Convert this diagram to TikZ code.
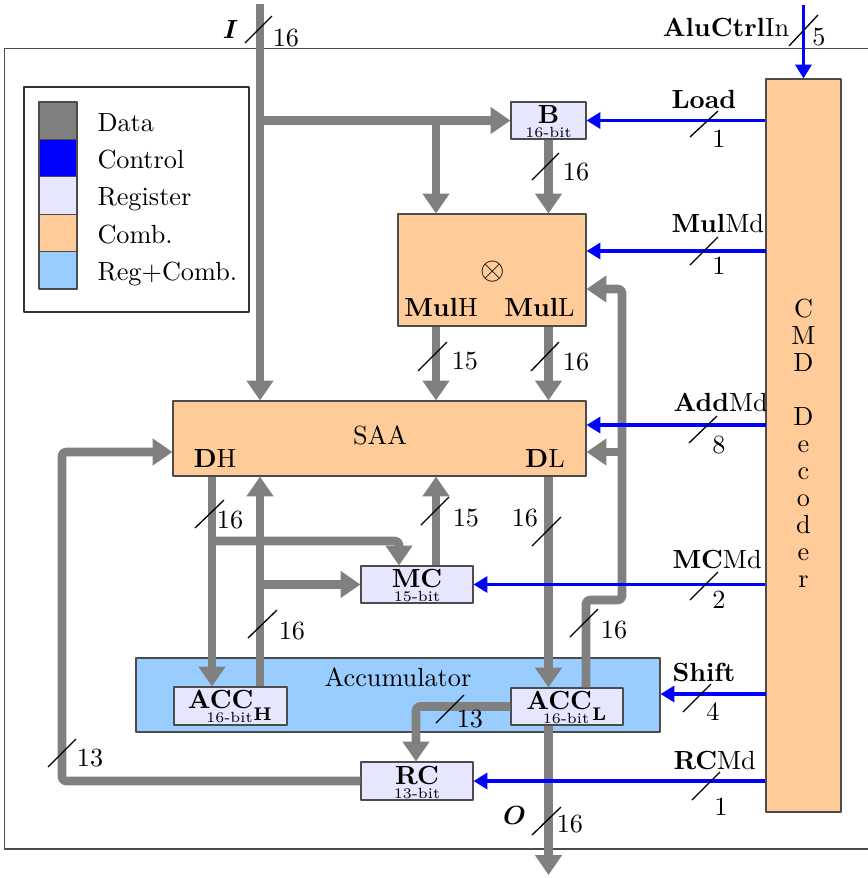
\documentclass[tikz,border=0pt]{standalone}
\usepackage{bm}
\usetikzlibrary{arrows.meta,fit}
\definecolor{regcol}{RGB}{230,230,255}
\definecolor{combcol}{RGB}{255,204,153}
\definecolor{acccol}{RGB}{153,204,255}
\begin{document}
\begin{tikzpicture}[x=0.381pt, y=-0.381pt, line join=round,
		box/.style={draw=black!70, line width=0.4pt, inner sep=0pt},
		reg/.style={box, fill=regcol},
		comb/.style={box, fill=combcol},
		data/.style={gray, line width=3.3pt, rounded corners=1.5pt, -{Triangle[length=7.6pt, width=9.9pt]}},
		ctrl/.style={blue, line width=1.4pt, -{Triangle[length=5.3pt, width=6.1pt]}},
		bus/.style={black, line width=0.5pt},
		lbl/.style={inner sep=0pt},
		regname/.style={inner sep=0pt, anchor=base, font=\bfseries},
		regbits/.style={inner sep=0pt, anchor=base, font=\fontsize{5.6}{7}\selectfont}]
	\useasboundingbox (0,0) rectangle (868,878);
	\draw[black!70, line width=0.4pt] (4.5,48.5) rectangle (880,849);
	
	% legend
	\draw[black!80, line width=0.4pt] (24,87) rectangle (249,312);
	\filldraw[fill=gray, draw=black!70, line width=0.4pt] (39,102) rectangle (77,139.4);
	\filldraw[fill=blue, draw=black!70, line width=0.4pt] (39,139.4) rectangle (77,176.8);
	\filldraw[fill=regcol, draw=black!70, line width=0.4pt] (39,176.8) rectangle (77,214.2);
	\filldraw[fill=combcol, draw=black!70, line width=0.4pt] (39,214.2) rectangle (77,251.6);
	\filldraw[fill=acccol, draw=black!70, line width=0.4pt] (39,251.6) rectangle (77,289);
	\node[lbl, anchor=base west] (lgdata) at (97,131) {Data};
	\node[lbl, anchor=base west] (lgctrl) at (97,168.4) {Control};
	\node[lbl, anchor=base west] (lgreg) at (97,205.8) {Register};
	\node[lbl, anchor=base west] (lgcomb) at (97,243.2) {Comb.};
	\node[lbl, anchor=base west] (lgacc) at (97,280.6) {Reg+Comb.};
	
	% blocks
	\node[reg, fit={(511,102) (586,139)}] (b) {};
	\node[comb, fit={(398,214) (586,326)}] (mul) {};
	\node[comb, fit={(173,401) (586,476)}] (saa) {};
	\node[reg, fit={(361,566) (473,603)}] (mc) {};
	\node[box, fill=acccol, fit={(136,658) (660,732)}] (acc) {};
	\node[reg, fit={(174,687) (287,725)}] (acch) {};
	\node[reg, fit={(511,688) (623,725)}] (accl) {};
	\node[reg, fit={(361,762) (473,800)}] (rc) {};
	\node[comb, fit={(766,79) (841,812)}] (cmd) {};
	
	\node[regname] (bname) at (548.5,123.5) {B};
	\node[regbits] (bbits) at (548.5,137.5) {16-bit};
	\node[regname] (mcname) at (417,587.5) {MC};
	\node[regbits] (mcbits) at (417,601.5) {15-bit};
	\node[regname] (achname) at (230.5,708.5) {$\mathbf{ACC}_{\lower3pt\hbox{$\scriptstyle\mathbf{H}$}}$};
	\node[regbits] (achbits) at (229.5,722.5) {16-bit};
	\node[regname] (aclname) at (567,709) {$\mathbf{ACC}_{\lower3pt\hbox{$\scriptstyle\mathbf{L}$}}$};
	\node[regbits] (aclbits) at (566,723) {16-bit};
	\node[regname] (rcname) at (417,784.5) {RC};
	\node[regbits] (rcbits) at (417,798) {13-bit};
	
	\node[lbl, font=\large] (mulop) at (493,272) {$\otimes$};
	\node[lbl] (mulh) at (441,307) {\textbf{Mul}H};
	\node[lbl] (mull) at (539.5,307) {\textbf{Mul}L};
	\node[lbl] (saaname) at (380,435.5) {SAA};
	\node[lbl] (dh) at (215,458) {\textbf{D}H};
	\node[lbl] (dl) at (545,458) {\textbf{D}L};
	\node[lbl] (acctxt) at (398,677.5) {Accumulator};
	\node[lbl, anchor=north, align=center, font=\linespread{0.86}\selectfont] (cmdname) at (803.5,298) {C\\M\\D\\\mbox{}\\D\\e\\c\\o\\d\\e\\r};
	
	\coordinate (iin) at (260,4);
	\coordinate (mulin) at (436,120.5);
	\coordinate (lft) at (62,452);
	\coordinate (dhx) at (212,541);
	\coordinate (mcin) at (399,541);
	\coordinate (ahx) at (260,583);
	\coordinate (rsx) at (586,600);
	\coordinate (lpx) at (622,600);
	\coordinate (mulfb) at (622,289);
	\coordinate (saafb) at (622,452);
	\coordinate (rcx) at (416,706.5);
	\coordinate (out) at (548.5,875);
	
	% data paths
	\draw[data] (iin) -- (iin |- saa.north);
	\draw[data] (iin |- b.west) -- (b.west);
	\draw[data] (mulin) -- (mulin |- mul.north);
	\draw[data] (b.south) -- (mul.north -| b.south);
	\draw[data] (mul.south -| mulin) -- (saa.north -| mulin);
	\draw[data] (mul.south -| b.south) -- (saa.north -| b.south);
	\draw[data] (rc.west) -| (lft) -- (saa.west |- lft);
	\draw[data] (saa.south -| dhx) -- (acch.north -| dhx);
	\draw[data] (dhx) -- (mcin) -- (mc.north -| mcin);
	\draw[data] (acch.north -| ahx) -- (saa.south -| ahx);
	\draw[data] (ahx |- mc.west) -- (mc.west);
	\draw[data] (mc.north -| mulin) -- (saa.south -| mulin);
	\draw[data] (saa.south -| b.south) -- (accl.north -| b.south);
	\draw[data] (accl.south -| b.south) -- (out);
	\draw[data] (accl.north -| rsx) -- (rsx) -- (lpx) -- (mulfb) -- (mul.east |- mulfb);
	\draw[data] (saafb) -- (saa.east |- saafb);
	\draw[data] (accl.west) -- (accl.west -| rcx) -- (rc.north -| rcx);
	
	% control paths
	\coordinate (aluin) at (803.5,5);
	\coordinate (mulmd) at (766,251);
	\coordinate (addmd) at (766,425);
	\coordinate (shift) at (766,694);
	\draw[ctrl] (aluin) -- (cmd.north);
	\draw[ctrl] (cmd.west |- b.east) -- (b.east);
	\draw[ctrl] (mulmd) -- (mulmd -| mul.east);
	\draw[ctrl] (addmd) -- (addmd -| saa.east);
	\draw[ctrl] (cmd.west |- mc.east) -- (mc.east);
	\draw[ctrl] (shift) -- (shift -| acc.east);
	\draw[ctrl] (cmd.west |- rc.east) -- (rc.east);
	
	% bus widths
	\draw[bus] (245,43) -- (272,16);
	\draw[bus] (532,180) -- (559,153);
	\draw[bus] (418,371) -- (447,342);
	\draw[bus] (531,371) -- (559,342);
	\draw[bus] (195,528) -- (224,500);
	\draw[bus] (421,525) -- (449,497);
	\draw[bus] (248,638) -- (277,610);
	\draw[bus] (532,546) -- (561,517);
	\draw[bus] (570,637) -- (598,609);
	\draw[bus] (436,723) -- (464,695);
	\draw[bus] (48,767) -- (76,739);
	\draw[bus] (532,835) -- (561,807);
	\draw[bus] (789,46) -- (818,15);
	\draw[bus] (690,137) -- (718,111);
	\draw[bus] (690,265) -- (718,237);
	\draw[bus] (689,443) -- (717,416);
	\draw[bus] (690,600) -- (718,572);
	\draw[bus] (683,712) -- (711,684);
	\draw[bus] (692,800) -- (720,772);
	
	\node[lbl] (iname) at (230.5,29.5) {$\bm{I}$};
	\node[lbl] (oname) at (514.5,815.5) {$\bm{O}$};
	\node[lbl] (wi) at (286,38) {16};
	\node[lbl] (wb) at (576,172) {16};
	\node[lbl] (wmh) at (465,361) {15};
	\node[lbl] (wml) at (576,362) {16};
	\node[lbl] (wdh) at (230,520) {16};
	\node[lbl] (wmc) at (466,518) {15};
	\node[lbl] (wah) at (292,631) {16};
	\node[lbl] (wdl) at (525,518) {16};
	\node[lbl] (wfb) at (614,630) {16};
	\node[lbl] (wrc) at (470,719) {13};
	\node[lbl] (wlp) at (90,758) {13};
	\node[lbl] (wo) at (570,824) {16};
	
	\node[lbl] (aluname) at (726,27) {\textbf{AluCtrl}In};
	\node[lbl] (walu) at (819,37) {5};
	\node[lbl, anchor=west] (loadname) at (671,99.5) {\textbf{Load}};
	\node[lbl] (wload) at (719,138.5) {1};
	\node[lbl, anchor=west] (mulname) at (671,224) {\textbf{Mul}Md};
	\node[lbl] (wmul) at (719,266) {1};
	\node[lbl, anchor=west] (addname) at (673,402) {\textbf{Add}Md};
	\node[lbl] (wadd) at (719,445) {8};
	\node[lbl, anchor=west] (mcmdname) at (672,559.5) {\textbf{MC}Md};
	\node[lbl] (wmcmd) at (719,600) {2};
	\node[lbl, anchor=west] (shiftname) at (672,672.5) {\textbf{Shift}};
	\node[lbl] (wshift) at (713,712) {4};
	\node[lbl, anchor=west] (rcmdname) at (673,760.5) {\textbf{RC}Md};
	\node[lbl] (wrcmd) at (721,807) {1};
\end{tikzpicture}
\end{document}
